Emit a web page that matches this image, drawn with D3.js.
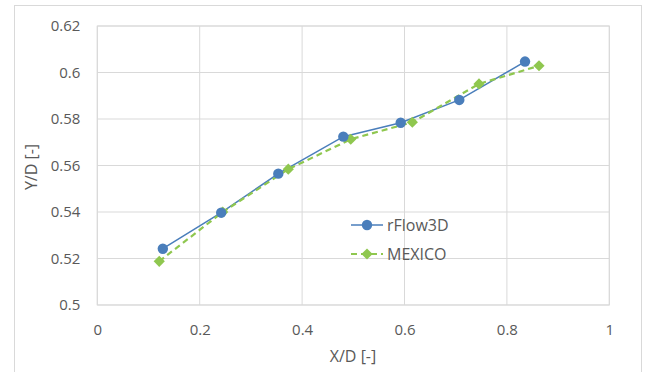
<!DOCTYPE html>
<html><head><meta charset="utf-8">
<script src="https://cdn.jsdelivr.net/npm/d3@7"></script>
<style>body{margin:0;background:#fff}svg{display:block}text{font-family:"Open Sans",Calibri,sans-serif;fill:#595959}</style>
</head><body><svg id="c" width="654" height="372"></svg>
<script>
const xTicks = [0, 0.2, 0.4, 0.6, 0.8, 1];
const yTicks = [0.5, 0.52, 0.54, 0.56, 0.58, 0.6, 0.62];
const rflowX = [0.128, 0.242, 0.3535, 0.4805, 0.5926, 0.707, 0.8354];
const rflowY = [0.5242, 0.5397, 0.5565, 0.5724, 0.5784, 0.5882, 0.6047];
const mexicoX = [0.121, 0.245, 0.373, 0.495, 0.6153, 0.7455, 0.8627];
const mexicoY = [0.5188, 0.54, 0.5584, 0.5713, 0.5786, 0.5951, 0.6029];
const seriesNames = ["rFlow3D", "MEXICO"];
const xLabel = "X/D [-]", yLabel = "Y/D [-]";

const svg = d3.select("#c");
const L = 97.3, R = 609.3, T = 26, B = 305;
const x = d3.scaleLinear().domain([0, 1]).range([L, R]);
const y = d3.scaleLinear().domain([0.5, 0.62]).range([B, T]);
const blue = "#4a7ebb", green = "#8fc74f", grid = "#d9d9d9";

svg.append("rect").attr("x", 14.5).attr("y", 5.5).attr("width", 627).attr("height", 380)
  .attr("fill", "none").attr("stroke", grid);

const g = svg.append("g");
g.selectAll(".gx").data(xTicks).join("line")
  .attr("x1", d => x(d)).attr("x2", d => x(d)).attr("y1", T).attr("y2", B)
  .attr("stroke", grid).attr("stroke-width", 1);
g.selectAll(".gy").data(yTicks).join("line")
  .attr("x1", L).attr("x2", R).attr("y1", d => y(d)).attr("y2", d => y(d))
  .attr("stroke", grid).attr("stroke-width", 1);
svg.append("rect").attr("x", L).attr("y", T).attr("width", R - L).attr("height", B - T)
  .attr("fill", "none").attr("stroke", grid);

const xa = svg.append("g").attr("transform", `translate(0,${B})`)
  .call(d3.axisBottom(x).tickValues(xTicks).tickFormat(d3.format("")).tickSize(0).tickPadding(19));
xa.select(".domain").remove();
xa.selectAll("text").style("font-size", "15px").attr("fill", "#595959");
const ya = svg.append("g").attr("transform", `translate(${L},0)`)
  .call(d3.axisLeft(y).tickValues(yTicks).tickFormat(d3.format("")).tickSize(0).tickPadding(17));
ya.select(".domain").remove();
ya.selectAll("text").style("font-size", "15px").attr("fill", "#595959");

svg.append("text").attr("x", 353).attr("y", 362).attr("text-anchor", "middle")
  .style("font-size", "16px").text(xLabel);
svg.append("text").attr("transform", "translate(37,167) rotate(-90)").attr("text-anchor", "middle")
  .style("font-size", "16px").text(yLabel);

const line = d3.line().x(d => x(d[0])).y(d => y(d[1]));
const rData = rflowX.map((v, i) => [v, rflowY[i]]);
const mData = mexicoX.map((v, i) => [v, mexicoY[i]]);

svg.append("path").datum(rData).attr("d", line).attr("fill", "none")
  .attr("stroke", blue).attr("stroke-width", 1.5);
svg.append("path").datum(mData).attr("d", line).attr("fill", "none")
  .attr("stroke", green).attr("stroke-width", 2.2).attr("stroke-dasharray", "6,4");

const diamond = d3.symbol().type(d3.symbolDiamond2).size(80);
svg.selectAll(".m").data(mData).join("path")
  .attr("d", diamond).attr("transform", d => `translate(${x(d[0])},${y(d[1])})`)
  .attr("fill", green);
svg.selectAll(".r").data(rData).join("circle")
  .attr("cx", d => x(d[0])).attr("cy", d => y(d[1])).attr("r", 5.2)
  .attr("fill", blue);

const lg = svg.append("g");
lg.append("line").attr("x1", 351).attr("x2", 383).attr("y1", 225).attr("y2", 225)
  .attr("stroke", blue).attr("stroke-width", 1.5);
lg.append("circle").attr("cx", 367).attr("cy", 225).attr("r", 5.2).attr("fill", blue);
lg.append("text").attr("x", 387).attr("y", 230.5).style("font-size", "16px").text(seriesNames[0]);
lg.append("line").attr("x1", 351).attr("x2", 383).attr("y1", 254).attr("y2", 254)
  .attr("stroke", green).attr("stroke-width", 2.2).attr("stroke-dasharray", "6,4");
lg.append("path").attr("d", diamond).attr("transform", "translate(367,254)").attr("fill", green);
lg.append("text").attr("x", 387).attr("y", 259.5).style("font-size", "16px").text(seriesNames[1]);
</script></body></html>
